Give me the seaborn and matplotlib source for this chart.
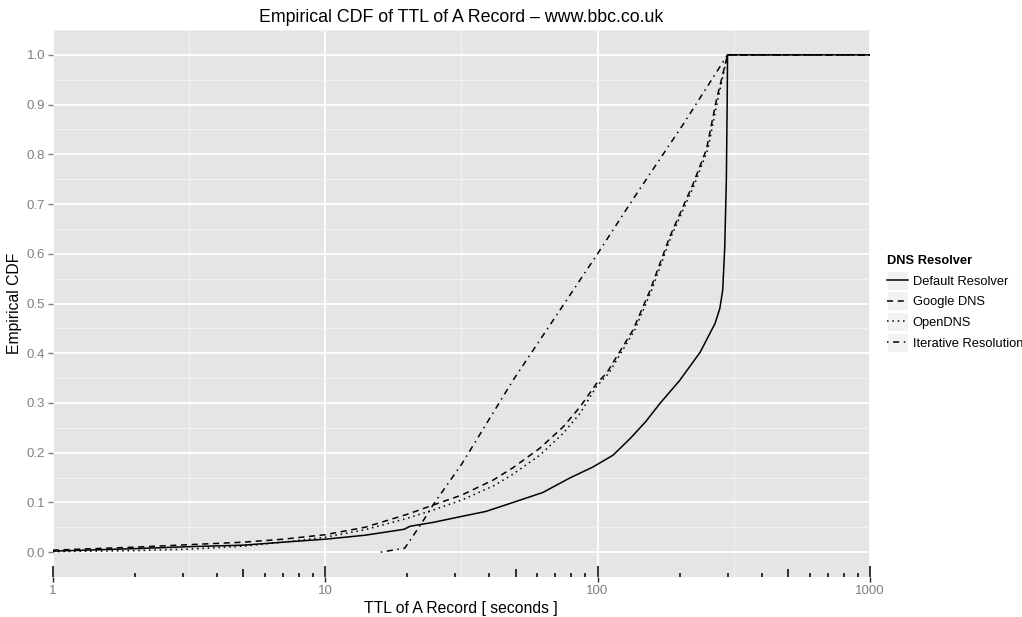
import matplotlib
matplotlib.use("Agg")
import numpy as np
import pandas as pd
import seaborn as sns
import matplotlib.pyplot as plt
from matplotlib.legend_handler import HandlerLine2D
from matplotlib.patches import Rectangle
from matplotlib.lines import Line2D
from matplotlib.ticker import FixedLocator
import matplotlib.transforms as mtransforms

# ---------------- data ----------------
resolvers = ["Default Resolver", "Google DNS", "OpenDNS", "Iterative Resolution"]

default_x = [1, 2, 3.16, 5, 7, 10, 14, 18, 19.5, 20.5, 25, 31.8, 39, 49, 63, 79, 96, 114, 132,
             150, 170, 200, 238, 270, 281, 288, 293, 297, 299, 300, 1000]
default_y = [0.002, 0.007, 0.011, 0.014, 0.020, 0.026, 0.034, 0.043, 0.046, 0.052, 0.060, 0.072,
             0.082, 0.100, 0.120, 0.149, 0.171, 0.195, 0.229, 0.262, 0.300, 0.345, 0.402, 0.460,
             0.490, 0.527, 0.614, 0.750, 0.900, 1.000, 1.000]

google_x = [1, 2, 3.16, 5, 7, 10, 14, 20, 25, 31.8, 41.4, 49, 61.4, 74.8, 86.2, 99.1, 108, 135,
            156, 184, 224, 251, 273, 300, 1000]
google_y = [0.004, 0.010, 0.015, 0.020, 0.026, 0.035, 0.050, 0.076, 0.095, 0.115, 0.145, 0.170,
            0.209, 0.252, 0.292, 0.339, 0.360, 0.447, 0.527, 0.634, 0.740, 0.810, 0.909, 1.000, 1.000]

opendns_x = [1, 2, 3.16, 5, 7, 10, 14, 20, 25, 31.8, 41.4, 49, 61.4, 74.8, 86.2, 99.1, 110, 137,
             158, 186, 227, 254, 275, 300, 1000]
opendns_y = [0.001, 0.003, 0.006, 0.012, 0.020, 0.030, 0.045, 0.068, 0.085, 0.105, 0.133, 0.157,
             0.195, 0.239, 0.279, 0.333, 0.360, 0.447, 0.527, 0.634, 0.740, 0.810, 0.905, 1.000, 1.000]

iterative_x = [16, 19.6, 22.6, 24.9, 31.8, 49, 100, 135, 206, 300, 1000]
iterative_y = [0.000, 0.008, 0.058, 0.095, 0.178, 0.346, 0.600, 0.710, 0.860, 1.000, 1.000]

x_ticks = [1, 10, 100, 1000]
x_tick_labels = ["1", "10", "100", "1000"]
y_ticks = [0.0, 0.1, 0.2, 0.3, 0.4, 0.5, 0.6, 0.7, 0.8, 0.9, 1.0]

series = {
    "Default Resolver": (default_x, default_y),
    "Google DNS": (google_x, google_y),
    "OpenDNS": (opendns_x, opendns_y),
    "Iterative Resolution": (iterative_x, iterative_y),
}
df = pd.concat(
    [pd.DataFrame({"ttl": xs, "ecdf": ys, "resolver": name}) for name, (xs, ys) in series.items()],
    ignore_index=True,
)

# ---------------- style ----------------
plt.rcParams["font.family"] = ["Liberation Sans", "DejaVu Sans"]
PANEL = "#E5E5E5"
GREY_TXT = "#7F7F7F"

dash_map = {
    "Default Resolver": "",
    "Google DNS": (4, 3),
    "OpenDNS": (1, 2.5),
    "Iterative Resolution": (1, 3, 4, 3),
}

fig = plt.figure(figsize=(10.22, 6.17), dpi=100)
ax_left, ax_right, ax_top, ax_bot = 52.7, 870, 30, 577
ax = fig.add_axes([ax_left / 1022, 1 - ax_bot / 617, (ax_right - ax_left) / 1022,
                   (ax_bot - ax_top) / 617])
ax.set_facecolor(PANEL)

ax.set_xscale("log")
sns.lineplot(data=df, x="ttl", y="ecdf", style="resolver", style_order=resolvers,
             dashes=dash_map, color="black", estimator=None, sort=False,
             linewidth=1.1, ax=ax, legend=False, zorder=3)

ax.set_xlim(1, 1000)
ax.set_ylim(-0.05, 1.05)

# ticks and grid
ax.xaxis.set_major_locator(FixedLocator(x_ticks))
ax.set_xticklabels(x_tick_labels)
ax.xaxis.set_minor_locator(FixedLocator([10 ** 0.5, 10 ** 1.5, 10 ** 2.5]))
ax.set_yticks(y_ticks)
ax.set_yticklabels([f"{v:.1f}" for v in y_ticks])
ax.yaxis.set_minor_locator(FixedLocator(np.arange(-0.05, 1.06, 0.1)))
ax.grid(which="major", color="white", linewidth=1.3)
ax.grid(which="minor", color="#F2F2F2", linewidth=0.7)
ax.set_axisbelow(True)
ax.tick_params(axis="x", which="major", length=3.5, width=1.0, color="#222222",
               labelcolor=GREY_TXT, labelsize=9.5, pad=2)
ax.tick_params(axis="y", which="major", length=3.5, width=1.0, color=GREY_TXT,
               labelcolor=GREY_TXT, labelsize=9.5, pad=2)
ax.tick_params(which="minor", length=0)
for s in ax.spines.values():
    s.set_visible(False)

# log ticks inside the panel (annotation_logticks style)
trans = mtransforms.blended_transform_factory(ax.transData, ax.transAxes)
panel_h = ax_bot - ax_top
lt_x, lt_len = [], []
for d in [1, 10, 100]:
    for k in range(1, 10):
        lt_x.append(k * d)
        lt_len.append(11 if k == 1 else (8 if k == 5 else 4))
lt_x.append(1000)
lt_len.append(11)
for xv, ln in zip(lt_x, lt_len):
    ax.vlines(xv, 0, ln / panel_h, transform=trans, color="black", linewidth=1.1, zorder=4,
              clip_on=False)

# labels
ax.set_xlabel("TTL of A Record [ seconds ]", fontsize=11.3, labelpad=3)
ax.set_ylabel("Empirical CDF", fontsize=11.3, labelpad=3)
fig.text((ax_left + ax_right) / 2 / 1022, 1 - 9 / 617,
         "Empirical CDF of TTL of A Record \u2013 www.bbc.co.uk",
         ha="center", va="top", fontsize=12.8)


# legend with grey key boxes
class KeyHandler(HandlerLine2D):
    def create_artists(self, legend, orig_handle, xdescent, ydescent, width, height,
                       fontsize, trans):
        arts = super().create_artists(legend, orig_handle, xdescent, ydescent, width, height,
                                      fontsize, trans)
        pad = 3.2
        rect = Rectangle((-xdescent, -ydescent - pad), width, height + 2 * pad,
                         facecolor="#F2F2F2", edgecolor="white", linewidth=0.8,
                         transform=trans)
        return [rect] + arts


handles = []
for name in resolvers:
    ls = "-" if dash_map[name] == "" else (0, dash_map[name])
    handles.append(Line2D([], [], color="black", linewidth=1.1, linestyle=ls))
leg = fig.legend(handles, resolvers, title="DNS Resolver", loc="center left",
                 bbox_to_anchor=(0.862, 0.51), frameon=False, fontsize=9.3,
                 title_fontproperties={"weight": "bold", "size": 9.3},
                 handlelength=1.6, handleheight=0.8, handletextpad=0.35, labelspacing=0.64,
                 borderpad=0, alignment="left",
                 handler_map={Line2D: KeyHandler()})

fig.savefig("out.png", dpi=100)
